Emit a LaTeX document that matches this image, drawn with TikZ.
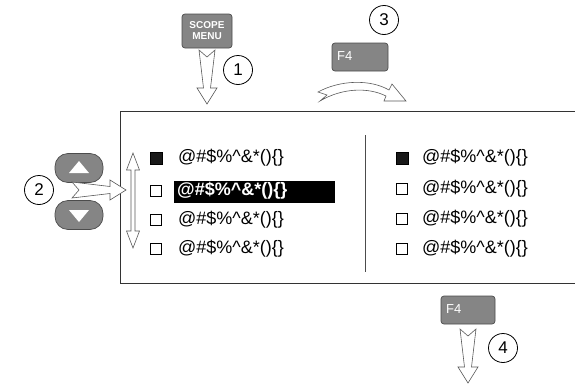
\documentclass[tikz,border=0pt]{standalone}
\usepackage{fontspec}
\setmainfont{Liberation Sans}
\begin{document}
\begin{tikzpicture}[x=1pt,y=-1pt,
  arrowline/.style={draw=black!65,line width=0.6pt,fill=white,line join=miter},
  keybtn/.style={draw=black!70,fill=black!48,line width=0.7pt,rounded corners=3pt,inner sep=0pt},
  numcircle/.style={draw=black,line width=0.8pt,circle,minimum size=29pt,inner sep=0pt,font=\fontsize{17}{19}\selectfont},
  itemtext/.style={anchor=west,inner sep=0pt,font=\fontsize{18}{20}\selectfont},
  hollowsq/.style={draw=black,line width=0.8pt,fill=white,minimum size=11pt,inner sep=0pt},
  filledsq/.style={draw=black,fill=black!90,minimum size=12pt,inner sep=0pt},
  hollowarrow/.pic={\path[arrowline] (0,-8) -- (38,-3.5) -- (38,-10) -- (54,0) -- (38,10) -- (38,3.5) -- (0,8) -- (7,0) -- cycle;}
]
\useasboundingbox (0,0) rectangle (575,383);

% main frame
\draw[black!80,line width=1pt] (575,111) -- (120,111) -- (120,283) -- (575,283);
\draw[black!70,line width=1pt] (365,135) -- (365,272);

% step 1
\node[keybtn,minimum width=50pt,minimum height=34pt] (scope) at (207,31) {};
\node[align=center,text=white,font=\bfseries\fontsize{10}{11}\selectfont,inner sep=0pt] (scopetxt) at (scope.center) {SCOPE\\MENU};
\pic[rotate=-90] at (207,50) {hollowarrow};
\node[numcircle] (c1) at (238,70) {1};

% step 3
\node[numcircle] (c3) at (384,20) {3};
\node[keybtn,minimum width=56pt,minimum height=28pt] (f4a) at (360,57) {};
\node[anchor=west,text=white,font=\fontsize{13}{15}\selectfont,inner sep=0pt] (f4atxt) at (337,56) {F4};
\path[arrowline] (318,92) .. controls (340,80) and (370,79) .. (389,90) -- (392,84) -- (406,101) -- (384,101) -- (386,96)
  .. controls (368,87) and (342,88) .. (320,101) -- (327,95) -- cycle;

% step 2
\node[numcircle] (c2) at (39,190) {2};
\node[keybtn,rounded corners=13pt,minimum width=48pt,minimum height=29pt] (up) at (79,168) {};
\node[keybtn,rounded corners=13pt,minimum width=48pt,minimum height=29pt] (down) at (79,215) {};
\fill[white] (79,161) -- (89,173) -- (69,173) -- cycle;
\fill[white] (79,222) -- (89,210) -- (69,210) -- cycle;
\pic at (72,190) {hollowarrow};
\path[arrowline] (133,153) -- (139.5,170) -- (135,170) -- (135,231) -- (139.5,231) -- (133,248)
  -- (126.5,231) -- (131,231) -- (131,170) -- (126.5,170) -- cycle;

% left list
\fill[black] (174,181) rectangle (335,203);
\node[filledsq] (l1s) at (156,158) {};
\node[hollowsq] (l2s) at (156,191) {};
\node[hollowsq] (l3s) at (156,220) {};
\node[hollowsq] (l4s) at (156,249) {};
\node[itemtext] (l1) at (178,158) {@\#\$\%\textasciicircum\&*()\{\}};
\node[itemtext,text=white,font=\bfseries\fontsize{18}{20}\selectfont] (l2) at (177,191) {@\#\$\%\textasciicircum\&*()\{\}};
\node[itemtext] (l3) at (178,220) {@\#\$\%\textasciicircum\&*()\{\}};
\node[itemtext] (l4) at (178,249) {@\#\$\%\textasciicircum\&*()\{\}};

% right list
\node[filledsq] (r1s) at (402,158) {};
\node[hollowsq] (r2s) at (402,189) {};
\node[hollowsq] (r3s) at (402,219) {};
\node[hollowsq] (r4s) at (402,249) {};
\node[itemtext] (r1) at (422,158) {@\#\$\%\textasciicircum\&*()\{\}};
\node[itemtext] (r2) at (422,189) {@\#\$\%\textasciicircum\&*()\{\}};
\node[itemtext] (r3) at (422,219) {@\#\$\%\textasciicircum\&*()\{\}};
\node[itemtext] (r4) at (422,249) {@\#\$\%\textasciicircum\&*()\{\}};

% step 4
\node[keybtn,minimum width=54pt,minimum height=28pt] (f4b) at (468,310) {};
\node[anchor=west,text=white,font=\fontsize{13}{15}\selectfont,inner sep=0pt] (f4btxt) at (446,309) {F4};
\pic[rotate=-90] at (468,329) {hollowarrow};
\node[numcircle] (c4) at (503,348) {4};
\end{tikzpicture}
\end{document}
